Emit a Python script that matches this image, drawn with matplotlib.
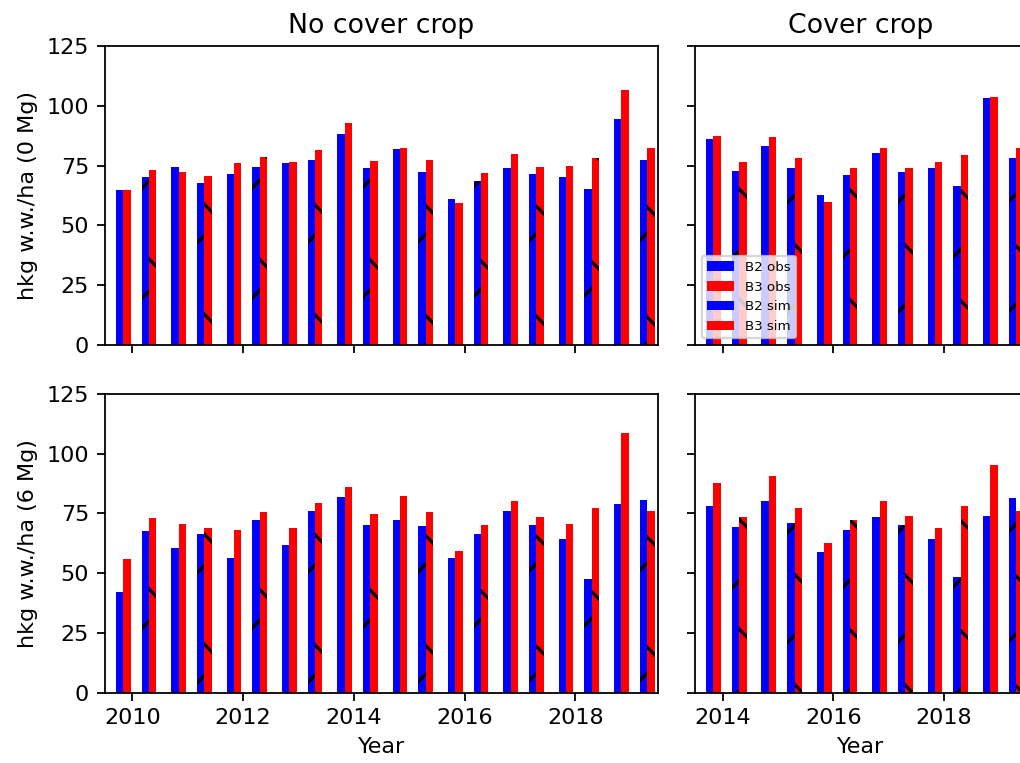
import numpy as np
import matplotlib
matplotlib.use("Agg")
import matplotlib.pyplot as plt

# Yield data [hkg w.w./ha]
years_nc = [2010, 2011, 2012, 2013, 2014, 2015, 2016, 2017, 2018, 2019]
years_cc = [2014, 2015, 2016, 2017, 2018, 2019]

# 0 Mg
nc0_b2_obs = [64.8, 74.5, 71.6, 76.1, 88.3, 81.9, 60.9, 73.9, 70.2, 94.3]
nc0_b3_obs = [65.0, 72.3, 75.9, 76.6, 92.8, 82.2, 59.5, 79.7, 74.8, 106.6]
nc0_b2_sim = [70.2, 67.9, 74.3, 77.5, 73.9, 72.3, 68.7, 71.6, 65.2, 77.5]
nc0_b3_sim = [73.2, 70.7, 78.5, 81.5, 76.8, 77.5, 71.9, 74.3, 78.2, 82.2]

cc0_b2_obs = [86.1, 83.2, 62.8, 80.3, 73.9, 103.1]
cc0_b3_obs = [87.2, 86.8, 59.9, 82.5, 76.6, 103.7]
cc0_b2_sim = [72.6, 74.1, 70.9, 72.3, 66.5, 78.2]
cc0_b3_sim = [76.6, 78.2, 73.9, 74.1, 79.3, 82.5]

# 6 Mg
nc6_b2_obs = [42.1, 60.4, 56.4, 61.7, 82.0, 72.1, 56.4, 75.9, 64.3, 78.8]
nc6_b3_obs = [55.8, 70.6, 68.1, 68.9, 85.9, 82.3, 59.3, 80.2, 70.5, 108.8]
nc6_b2_sim = [67.8, 66.3, 72.1, 76.2, 70.3, 69.6, 66.5, 70.0, 47.7, 80.6]
nc6_b3_sim = [73.0, 68.8, 75.5, 79.4, 74.6, 75.5, 70.0, 73.4, 77.3, 75.9]

cc6_b2_obs = [78.1, 80.2, 58.7, 73.6, 64.3, 74.1]
cc6_b3_obs = [87.9, 90.5, 62.6, 80.2, 68.9, 95.3]
cc6_b2_sim = [69.5, 71.0, 68.1, 70.2, 48.4, 81.5]
cc6_b3_sim = [73.6, 77.4, 72.3, 74.1, 78.2, 76.2]

# Small figure at high dpi (keeps the coarse hatch spacing of the original)
DPI = 330
S = 0.487  # scale of fonts / line widths relative to mpl defaults

plt.rcParams.update({
    "font.family": "DejaVu Sans",
    "font.size": 10 * S,
    "axes.linewidth": 0.8 * S,
    "axes.titlepad": 6 * S,
    "axes.labelpad": 4 * S,
    "xtick.major.width": 0.8 * S,
    "ytick.major.width": 0.8 * S,
    "xtick.major.size": 3.5 * S,
    "ytick.major.size": 3.5 * S,
    "xtick.major.pad": 3.5 * S,
    "ytick.major.pad": 3.5 * S,
    "patch.linewidth": 1.0 * S,
    "legend.fontsize": 6 * S,
    "hatch.linewidth": 0.7,
    "hatch.color": "black",
})

W = 0.133  # bar width [years]


def _bars(ax, years, b2_obs, b3_obs, b2_sim, b3_sim):
    x = np.asarray(years, dtype=float)
    ax.bar(x - 0.233, b2_obs, W, color="blue", linewidth=0, label="B2 obs")
    ax.bar(x - 0.100, b3_obs, W, color="red", linewidth=0, label="B3 obs")
    ax.bar(x + 0.232, b2_sim, W, color="blue", linewidth=0, hatch="/",
           label="B2 sim")
    ax.bar(x + 0.365, b3_sim, W, color="red", linewidth=0, hatch="\\",
           label="B3 sim")
    ax.set_ylim(0, 125)
    ax.set_yticks([0, 25, 50, 75, 100, 125])


fig = plt.figure(figsize=(1020 / DPI, 763 / DPI), dpi=DPI)

# axes positions [left, bottom, width, height] in figure fraction
px_per_year = 553.6 / 10
ax_nc0 = fig.add_axes([104.7 / 1020, 1 - 345 / 763, 553.6 / 1020, 299 / 763])
ax_nc6 = fig.add_axes([104.7 / 1020, 1 - 692.7 / 763, 553.6 / 1020, 298.7 / 763])
ax_cc0 = fig.add_axes([695 / 1020, 1 - 345 / 763, 6 * px_per_year / 1020, 299 / 763])
ax_cc6 = fig.add_axes([695 / 1020, 1 - 692.7 / 763, 6 * px_per_year / 1020, 298.7 / 763])

_bars(ax_nc0, years_nc, nc0_b2_obs, nc0_b3_obs, nc0_b2_sim, nc0_b3_sim)
_bars(ax_nc6, years_nc, nc6_b2_obs, nc6_b3_obs, nc6_b2_sim, nc6_b3_sim)
_bars(ax_cc0, years_cc, cc0_b2_obs, cc0_b3_obs, cc0_b2_sim, cc0_b3_sim)
_bars(ax_cc6, years_cc, cc6_b2_obs, cc6_b3_obs, cc6_b2_sim, cc6_b3_sim)

for ax in (ax_nc0, ax_nc6):
    ax.set_xlim(2009.5, 2019.5)
    ax.set_xticks([2010, 2012, 2014, 2016, 2018])
for ax in (ax_cc0, ax_cc6):
    ax.set_xlim(2013.5, 2019.5)
    ax.set_xticks([2014, 2016, 2018])
    ax.tick_params(labelleft=False)
for ax in (ax_nc0, ax_cc0):
    ax.tick_params(labelbottom=False)

ax_nc0.set_title("No cover crop")
ax_cc0.set_title("Cover crop")
ax_nc0.set_ylabel("hkg w.w./ha (0 Mg)")
ax_nc6.set_ylabel("hkg w.w./ha (6 Mg)")
ax_nc6.set_xlabel("Year")
ax_cc6.set_xlabel("Year")

ax_cc0.legend(loc="lower left")

fig.savefig("out.png", dpi=DPI)
